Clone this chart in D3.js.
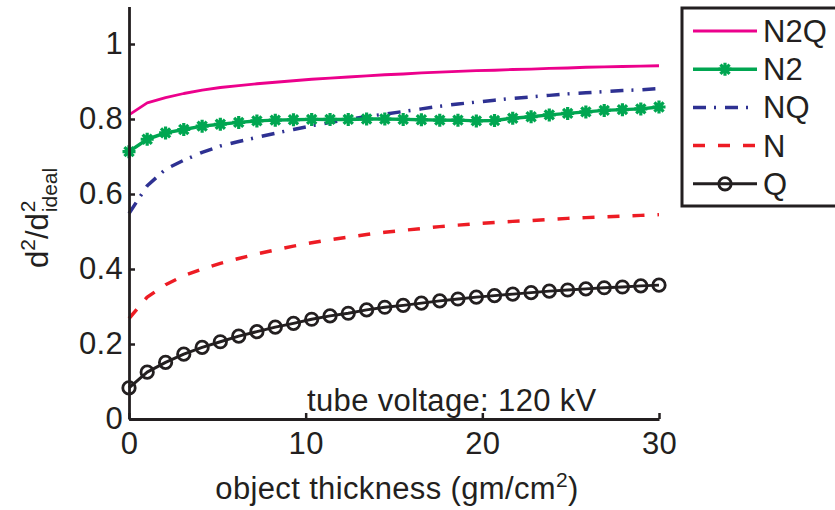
<!DOCTYPE html>
<html>
<head>
<meta charset="utf-8">
<script src="https://cdn.jsdelivr.net/npm/d3@7"></script>
<style>
  body { margin: 0; background: #fff; }
  svg { display: block; font-family: "Liberation Sans", Arial, sans-serif; }
</style>
</head>
<body>
<div id="chart"></div>
<script>
// x samples (30 points from 0 to 30 gm/cm^2)
const thickness = [0, 1.03, 2.07, 3.10, 4.14, 5.17, 6.21, 7.24, 8.28, 9.31, 10.34, 11.38, 12.41, 13.45, 14.48,
  15.52, 16.55, 17.59, 18.62, 19.66, 20.69, 21.72, 22.76, 23.79, 24.83, 25.86, 26.90, 27.93, 28.97, 30];

const n2q = [0.811, 0.843, 0.857, 0.868, 0.877, 0.884, 0.889, 0.894, 0.898, 0.902, 0.906, 0.909, 0.912, 0.915, 0.918,
  0.920, 0.923, 0.925, 0.927, 0.929, 0.930, 0.932, 0.933, 0.935, 0.936, 0.938, 0.939, 0.940, 0.941, 0.942];
const n2 = [0.713, 0.746, 0.763, 0.772, 0.781, 0.786, 0.791, 0.795, 0.797, 0.798, 0.799, 0.799, 0.799, 0.800, 0.800,
  0.799, 0.798, 0.797, 0.797, 0.795, 0.796, 0.802, 0.806, 0.811, 0.815, 0.819, 0.823, 0.825, 0.827, 0.832];
const nq = [0.548, 0.622, 0.666, 0.690, 0.711, 0.728, 0.740, 0.751, 0.762, 0.772, 0.782, 0.791, 0.799, 0.807, 0.813,
  0.820, 0.827, 0.834, 0.840, 0.845, 0.850, 0.855, 0.859, 0.863, 0.867, 0.870, 0.873, 0.876, 0.878, 0.881];
const n = [0.268, 0.325, 0.358, 0.382, 0.400, 0.415, 0.428, 0.440, 0.451, 0.461, 0.470, 0.478, 0.485, 0.492, 0.498,
  0.503, 0.508, 0.513, 0.517, 0.521, 0.524, 0.527, 0.529, 0.532, 0.535, 0.537, 0.539, 0.541, 0.543, 0.545];
const q = [0.083, 0.125, 0.151, 0.173, 0.191, 0.206, 0.221, 0.233, 0.245, 0.255, 0.266, 0.275, 0.282, 0.291, 0.298,
  0.303, 0.309, 0.315, 0.320, 0.325, 0.329, 0.333, 0.337, 0.341, 0.344, 0.347, 0.350, 0.352, 0.355, 0.357];

const xTicks = [0, 10, 20, 30];
const xTickLabels = ["0", "10", "20", "30"];
const yTicks = [0, 0.2, 0.4, 0.6, 0.8, 1];
const yTickLabels = ["0", "0.2", "0.4", "0.6", "0.8", "1"];

// series styles, in legend order
const series = [
  { name: "N2Q", values: n2q, color: "#ec008c", width: 2.8, dash: null, marker: null },
  { name: "N2", values: n2, color: "#00a651", width: 3.5, dash: null, marker: "star" },
  { name: "NQ", values: nq, color: "#2e3192", width: 3.5, dash: "13,8,2,9", marker: null },
  { name: "N", values: n, color: "#ed1c24", width: 3.5, dash: "12,13", marker: null },
  { name: "Q", values: q, color: "#231f20", width: 3, dash: null, marker: "circle" }
];

const W = 835, H = 510;
const ink = "#231f20";
const fontSize = 31;

const svg = d3.select("#chart").append("svg")
  .attr("width", W)
  .attr("height", H);

const x = d3.scaleLinear().domain([0, 30]).range([129, 659]);
const y = d3.scaleLinear().domain([0, 1.1]).range([419, 6.5]);

// lines and markers
const line = d3.line().x(d => x(d[0])).y(d => y(d[1]));

const starPath = r => {
  const k = r * Math.SQRT1_2;
  return `M${-r},0L${r},0M0,${-r}L0,${r}M${-k},${-k}L${k},${k}M${-k},${k}L${k},${-k}`;
};

function drawMarker(g, type, color) {
  if (type === "star") {
    g.append("path").attr("d", starPath(6.5))
      .attr("stroke", color).attr("stroke-width", 3.2).attr("fill", "none");
  } else if (type === "circle") {
    g.append("circle").attr("r", 6.2)
      .attr("stroke", color).attr("stroke-width", 2.8).attr("fill", "none");
  }
}

series.slice().reverse().forEach(s => {
  const pts = thickness.map((t, i) => [t, s.values[i]]);
  svg.append("path")
    .datum(pts)
    .attr("d", line)
    .attr("fill", "none")
    .attr("stroke", s.color)
    .attr("stroke-width", s.width)
    .attr("stroke-dasharray", s.dash)
    .attr("stroke-linejoin", "round");
  if (s.marker) {
    pts.forEach(p => {
      const g = svg.append("g").attr("transform", `translate(${x(p[0])},${y(p[1])})`);
      drawMarker(g, s.marker, s.color);
    });
  }
});

// axes (ticks point inward, no box)
const xAxis = svg.append("g")
  .attr("transform", `translate(0,${y(0)})`)
  .call(d3.axisBottom(x).tickValues(xTicks).tickFormat((d, i) => xTickLabels[i])
    .tickSizeInner(-6).tickSizeOuter(0).tickPadding(13));

const yAxis = svg.append("g")
  .attr("transform", `translate(${x(0)},0)`)
  .call(d3.axisLeft(y).tickValues(yTicks).tickFormat((d, i) => yTickLabels[i])
    .tickSizeInner(-6).tickSizeOuter(0).tickPadding(6));

[xAxis, yAxis].forEach(a => {
  a.select(".domain").attr("stroke", ink).attr("stroke-width", 2.8);
  a.selectAll(".tick line").attr("stroke", ink).attr("stroke-width", 2.5);
  a.selectAll(".tick text")
    .attr("fill", ink)
    .style("font-size", fontSize + "px")
    .style("letter-spacing", "0.3px")
    .style("font-family", "'Liberation Sans', Arial, sans-serif");
});

// annotation
svg.append("text")
  .attr("x", 307)
  .attr("y", 411)
  .attr("fill", ink)
  .style("font-size", fontSize + "px")
  .style("letter-spacing", "0.35px")
  .text("tube voltage: 120 kV");

// x label
const xl = svg.append("text")
  .attr("x", 397)
  .attr("y", 499)
  .attr("text-anchor", "middle")
  .attr("fill", ink)
  .style("font-size", fontSize + "px")
  .style("letter-spacing", "0.35px");
xl.append("tspan").text("object thickness (gm/cm");
xl.append("tspan").attr("dy", -12).style("font-size", "21px").text("2");
xl.append("tspan").attr("dy", 12).text(")");

// y label: d^2/d^2_ideal, rotated
const yl = svg.append("g").attr("transform", "translate(48,268) rotate(-90)");
const ylMain = yl.append("text")
  .attr("x", 0).attr("y", 0)
  .attr("fill", ink)
  .style("font-size", fontSize + "px");
ylMain.append("tspan").text("d");
ylMain.append("tspan").attr("dy", -13).style("font-size", "21px").text("2");
ylMain.append("tspan").attr("dy", 13).text("/d");
const mainLen = ylMain.node().getComputedTextLength();
yl.append("text")
  .attr("x", mainLen + 1).attr("y", -13)
  .attr("fill", ink)
  .style("font-size", "21px")
  .text("2");
yl.append("text")
  .attr("x", mainLen + 1).attr("y", 9)
  .attr("fill", ink)
  .style("font-size", "21px")
  .text("ideal");

// legend
const lg = svg.append("g");
lg.append("rect")
  .attr("x", 682).attr("y", 8)
  .attr("width", 200).attr("height", 198)
  .attr("fill", "#fff")
  .attr("stroke", ink)
  .attr("stroke-width", 3);

series.forEach((s, i) => {
  const cy = 31 + i * 38.2;
  lg.append("line")
    .attr("x1", 693).attr("x2", 757)
    .attr("y1", cy).attr("y2", cy)
    .attr("stroke", s.color)
    .attr("stroke-width", s.width)
    .attr("stroke-dasharray", s.dash);
  if (s.marker) {
    const g = lg.append("g").attr("transform", `translate(725,${cy})`);
    drawMarker(g, s.marker, s.color);
  }
  lg.append("text")
    .attr("x", 763)
    .attr("y", cy + 11)
    .attr("fill", ink)
    .style("font-size", fontSize + "px")
    .text(s.name);
});
</script>
</body>
</html>
